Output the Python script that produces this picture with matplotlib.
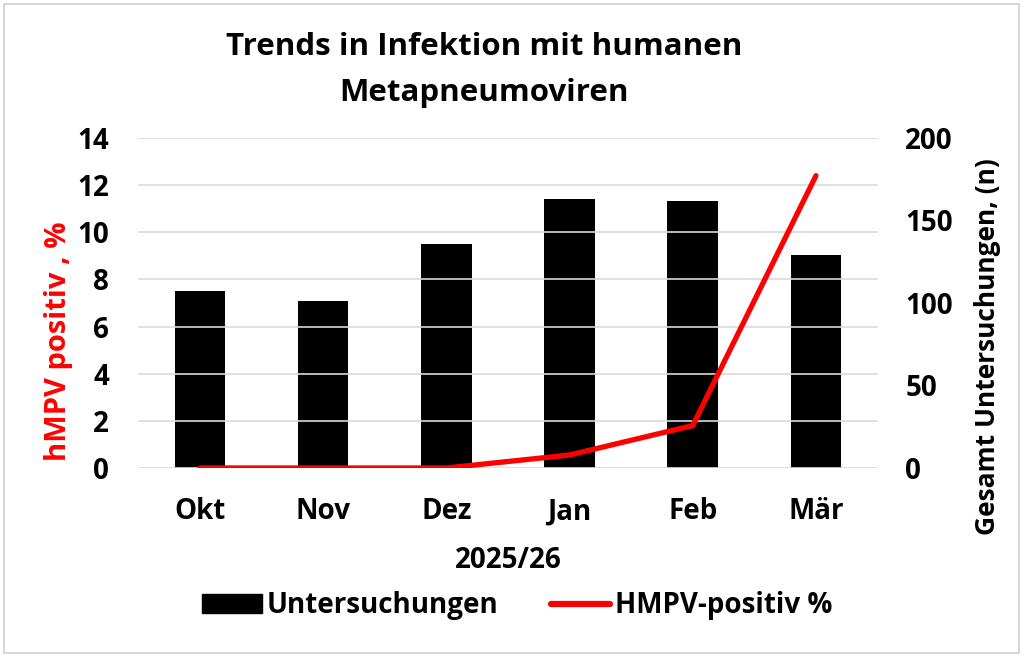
import numpy as np
import matplotlib
matplotlib.use("Agg")
import matplotlib.pyplot as plt
from matplotlib.patches import Rectangle
from matplotlib.lines import Line2D

plt.rcParams['font.family'] = ['Open Sans', 'DejaVu Sans']
plt.rcParams['font.weight'] = 'bold'

months = ["Okt", "Nov", "Dez", "Jan", "Feb", "Mär"]
untersuchungen = [107, 101, 136, 163, 162, 129]
hmpv_pct = [0, 0, 0, 0.55, 1.8, 12.4]

fs = 20

fig = plt.figure(figsize=(10.24, 6.57), dpi=100)
fig.patches.append(Rectangle((0.004, 0.006), 0.991, 0.988, transform=fig.transFigure,
                             fill=False, edgecolor="#d0d0d0", lw=1.2))

ax = fig.add_axes([0.135, 0.2877, 0.722, 0.5023])
ax2 = ax.twinx()
ax.set_zorder(ax2.get_zorder() + 1)
ax.patch.set_visible(False)

x = np.arange(len(months))
ax2.bar(x, untersuchungen, width=0.41, color="black")
ax.plot(x, hmpv_pct, color="#ff0000", lw=3.8, solid_capstyle="round")

ax.set_xlim(-0.5, len(months) - 0.5)
ax.set_ylim(0, 14)
ax.set_yticks(np.arange(0, 15, 2))
ax2.set_ylim(0, 200)
ax2.set_yticks(np.arange(0, 201, 50))

ax.yaxis.grid(True, color="#d9d9d9", lw=1.2)
ax.set_axisbelow(True)
for a in (ax, ax2):
    for s in a.spines.values():
        s.set_visible(False)
    a.tick_params(length=0, labelsize=fs)
ax.tick_params(axis="y", pad=21)
ax2.tick_params(axis="y", pad=20)
ax.tick_params(axis="x", pad=21)

ax.set_xticks(x)
ax.set_xticklabels(months)
ax.set_xlabel("2025/26", fontsize=fs, fontweight="bold", labelpad=14)
ax.set_ylabel("hMPV positiv , %", fontsize=21, fontweight="bold", color="#ff0000")
ax.yaxis.set_label_coords(-0.088, 0.385)
ax2.set_ylabel("Gesamt Untersuchungen, (n)", fontsize=19, fontweight="bold")
ax2.yaxis.set_label_coords(1.131, 0.367)

fig.suptitle("Trends in Infektion mit humanen\nMetapneumoviren", x=0.473, y=0.952,
             fontsize=22.5, fontweight="bold", linespacing=1.7)

handles = [Rectangle((0, 0), 1, 1, color="black"),
           Line2D([0], [0], color="#ff0000", lw=4.5, solid_capstyle="round")]
fig.legend(handles, ["Untersuchungen", "HMPV-positiv %"], loc="center", ncol=2,
           bbox_to_anchor=(0.505, 0.078), frameon=False, fontsize=fs,
           handlelength=2.15, handletextpad=0.15, columnspacing=1.9)

fig.savefig("out.png", dpi=100)
